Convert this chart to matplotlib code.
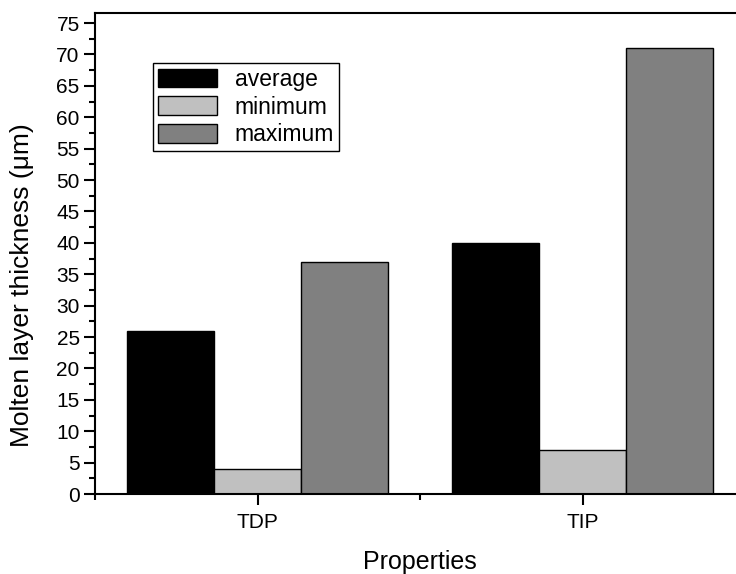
import matplotlib
matplotlib.use("Agg")
import matplotlib.pyplot as plt
from matplotlib.ticker import MultipleLocator, FixedLocator
import numpy as np

plt.rcParams['font.family'] = ['Liberation Sans', 'DejaVu Sans']

categories = ["TDP", "TIP"]
series_names = ["average", "minimum", "maximum"]
average = [26, 40]
minimum = [4, 7]
maximum = [37, 71]
colors = ["#000000", "#C0C0C0", "#808080"]

W, H, DPI = 736, 574, 100
fig = plt.figure(figsize=(W / DPI, H / DPI), dpi=DPI)
ax = fig.add_axes([95 / W, (H - 494) / H, 650 / W, 481 / H])

x = np.arange(1, len(categories) + 1)
bw = 0.268
for i, (vals, name, c) in enumerate(zip([average, minimum, maximum], series_names, colors)):
    ax.bar(x + (i - 1) * bw, vals, width=bw, color=c, edgecolor="black",
           linewidth=1.0, label=name)

ax.set_xlim(0.5, 2.5)
ax.set_ylim(0, 76.6)
ax.set_xticks(x)
ax.set_xticklabels(categories)
ax.xaxis.set_minor_locator(FixedLocator([0.5, 1.5, 2.5]))
ax.yaxis.set_major_locator(MultipleLocator(5))
ax.yaxis.set_minor_locator(MultipleLocator(2.5))

for s in ax.spines.values():
    s.set_linewidth(1.5)
ax.tick_params(which="major", direction="out", length=8, width=1.5, labelsize=15)
ax.tick_params(which="minor", direction="out", length=4.5, width=1.5)
ax.tick_params(axis="x", pad=6)
ax.tick_params(axis="y", pad=3)

ax.set_xlabel("Properties", fontsize=18, labelpad=13)
ax.set_ylabel("Molten layer thickness (\u03bcm)", fontsize=19)
ax.yaxis.set_label_coords(-0.094, 0.435)

leg = ax.legend(loc="upper left", bbox_to_anchor=(0.089, 0.896), borderaxespad=0,
                fontsize=16.5, handlelength=2.6, handleheight=0.87, handletextpad=0.75,
                labelspacing=0.2, borderpad=0.22, fancybox=False, framealpha=1,
                edgecolor="black")
leg.get_frame().set_linewidth(1.0)

fig.savefig("out.png", dpi=DPI)
